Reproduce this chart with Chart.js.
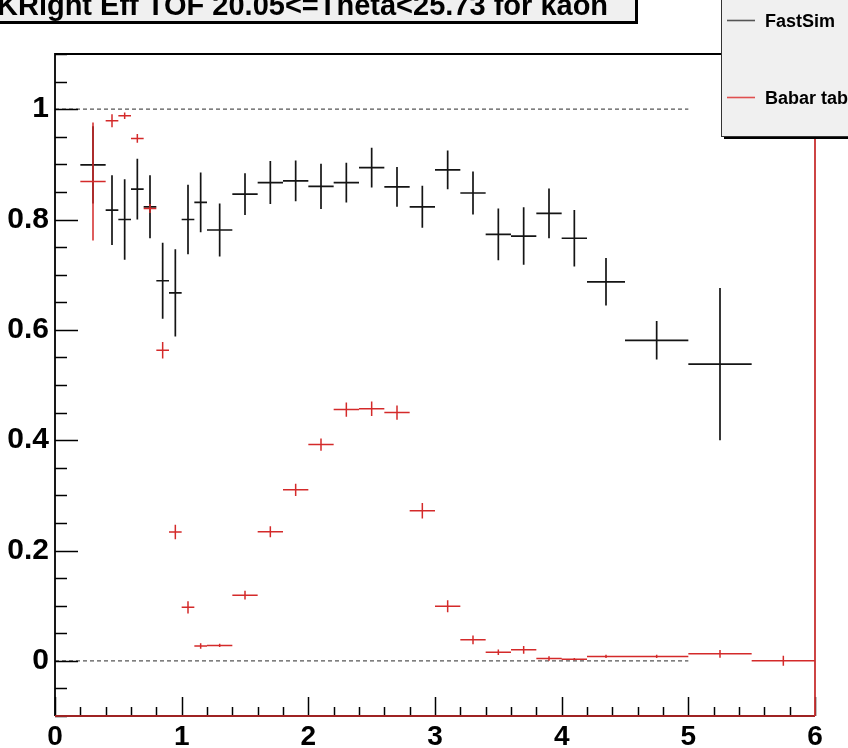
<!DOCTYPE html>
<html><head><meta charset="utf-8">
<script src="https://cdn.jsdelivr.net/npm/chart.js@4.4.1/dist/chart.umd.min.js"></script>
<style>html,body{margin:0;padding:0;background:#fff;overflow:hidden}canvas{display:block}</style>
</head><body>
<canvas id="c" width="848" height="748"></canvas>
<script>
// ---- data ----
const titleText = 'KRight Eff TOF 20.05<=Theta<25.73 for kaon';
const seriesNames = ['FastSim', 'Babar table'];

const binLow  = [0.2,0.4,0.5,0.6,0.7,0.8,0.9,1.0,1.1,1.2,1.4,1.6,1.8,2.0,2.2,2.4,2.6,2.8,3.0,3.2,3.4,3.6,3.8,4.0,4.2,4.5,5.0,5.5];
const binHigh = [0.4,0.5,0.6,0.7,0.8,0.9,1.0,1.1,1.2,1.4,1.6,1.8,2.0,2.2,2.4,2.6,2.8,3.0,3.2,3.4,3.6,3.8,4.0,4.2,4.5,5.0,5.5,6.0];

const fastSimValues = [0.899,0.817,0.800,0.855,0.823,0.689,0.667,0.800,0.831,0.781,0.846,0.867,0.870,0.860,0.867,0.894,0.859,0.823,0.890,0.848,0.773,0.770,0.811,0.766,0.687,0.581,0.538];
const fastSimErrors = [0.070,0.063,0.073,0.055,0.057,0.069,0.079,0.063,0.054,0.048,0.038,0.039,0.037,0.041,0.036,0.036,0.036,0.038,0.035,0.039,0.047,0.052,0.045,0.051,0.043,0.035,0.138];

const babarValues = [0.869,0.979,0.988,0.947,0.820,0.563,0.2335,0.097,0.027,0.028,0.119,0.234,0.310,0.392,0.4555,0.457,0.450,0.272,0.099,0.038,0.0157,0.020,0.0042,0.003,0.008,0.008,0.0127,0.0];
const babarErrors = [0.107,0.012,0.006,0.008,0.008,0.015,0.013,0.011,0.005,0.003,0.008,0.010,0.011,0.011,0.013,0.013,0.013,0.014,0.011,0.008,0.005,0.007,0.004,0.002,0.003,0.003,0.007,0.009];

const refLineX = [0, 5];
const refLineY = [0, 1];

const xTickValues = [0,1,2,3,4,5,6];
const xTickLabels = ['0','1','2','3','4','5','6'];
const yTickValues = [0,0.2,0.4,0.6,0.8,1];
const yTickLabels = ['0','0.2','0.4','0.6','0.8','1'];

// ---- build cross (error bar) polylines, broken by gaps ----
function crosses(values, errors) {
  const pts = [];
  values.forEach((v, i) => {
    const lo = binLow[i], hi = binHigh[i], c = (lo + hi) / 2, e = errors[i];
    pts.push({x: lo, y: v}, {x: hi, y: v}, {x: c, y: null});
    pts.push({x: c, y: v - e}, {x: c, y: v + e}, {x: c, y: null});
  });
  return pts;
}

const FONT = "'Liberation Sans', Arial, Helvetica, sans-serif";
const BLACK = '#141414';
const RED = '#d42a2a';

function labelFor(vals, labs, value) {
  for (let i = 0; i < vals.length; i++) if (Math.abs(vals[i] - value) < 1e-6) return labs[i];
  return '';
}
function isMajor(vals, value) { return labelFor(vals, vals.map(String), value) !== ''; }

const decorPlugin = {
  id: 'decor',
  afterDraw(chart) {
    const {ctx, chartArea: a, scales: {x, y}} = chart;
    ctx.save();
    // inward ticks
    ctx.strokeStyle = '#000';
    ctx.lineWidth = 1.5;
    y.ticks.forEach(t => {
      const py = Math.round(y.getPixelForValue(t.value)) + 0.5;
      const len = isMajor(yTickValues, t.value) ? 23 : 12;
      ctx.beginPath(); ctx.moveTo(a.left, py); ctx.lineTo(a.left + len, py); ctx.stroke();
    });
    x.ticks.forEach(t => {
      const px = Math.round(x.getPixelForValue(t.value)) + 0.5;
      const len = isMajor(xTickValues, t.value) ? 19 : 9;
      ctx.beginPath(); ctx.moveTo(px, a.bottom); ctx.lineTo(px, a.bottom - len); ctx.stroke();
    });
    // frame
    ctx.lineWidth = 1.8;
    ctx.strokeStyle = '#000';
    ctx.beginPath(); ctx.moveTo(a.left, a.bottom); ctx.lineTo(a.left, a.top); ctx.lineTo(a.right, a.top); ctx.stroke();
    ctx.strokeStyle = '#9e2323';
    ctx.beginPath(); ctx.moveTo(a.left, a.bottom); ctx.lineTo(a.right, a.bottom); ctx.stroke();
    ctx.strokeStyle = '#c83030';
    ctx.beginPath(); ctx.moveTo(a.right, a.bottom); ctx.lineTo(a.right, a.top); ctx.stroke();

    // title box
    const tb = {x0: -10, y0: -40, x1: 635, y1: 21};
    ctx.fillStyle = '#000';
    ctx.fillRect(tb.x0 + 3, tb.y0 + 3, tb.x1 - tb.x0, tb.y1 - tb.y0);
    ctx.fillStyle = '#f0f0f0';
    ctx.fillRect(tb.x0, tb.y0, tb.x1 - tb.x0, tb.y1 - tb.y0);
    ctx.lineWidth = 1; ctx.strokeStyle = '#000';
    ctx.strokeRect(tb.x0 + 0.5, tb.y0 + 0.5, tb.x1 - tb.x0, tb.y1 - tb.y0);
    ctx.fillStyle = '#000';
    ctx.font = 'bold 29px ' + FONT;
    ctx.textBaseline = 'alphabetic'; ctx.textAlign = 'left';
    ctx.fillText(titleText, -3, 15);

    // legend box
    const lb = {x0: 721, y0: -40, x1: 880, y1: 136};
    ctx.fillStyle = '#000';
    ctx.fillRect(lb.x0 + 3, lb.y0 + 3, lb.x1 - lb.x0, lb.y1 - lb.y0);
    ctx.fillStyle = '#f0f0f0';
    ctx.fillRect(lb.x0, lb.y0, lb.x1 - lb.x0, lb.y1 - lb.y0);
    ctx.lineWidth = 1; ctx.strokeStyle = '#333';
    ctx.strokeRect(lb.x0 + 0.5, lb.y0 + 0.5, lb.x1 - lb.x0, lb.y1 - lb.y0);
    const entries = [{name: seriesNames[0], color: '#555', y: 20}, {name: seriesNames[1], color: '#e05050', y: 97}];
    ctx.font = 'bold 18px ' + FONT;
    entries.forEach(en => {
      ctx.strokeStyle = en.color; ctx.lineWidth = 1.6;
      ctx.beginPath(); ctx.moveTo(727, en.y + 0.5); ctx.lineTo(755, en.y + 0.5); ctx.stroke();
      ctx.fillStyle = '#000';
      ctx.fillText(en.name, 765, en.y + 7);
    });
    ctx.restore();
  }
};

const ctx = document.getElementById('c').getContext('2d');
new Chart(ctx, {
  type: 'scatter',
  data: {
    datasets: [
      {label: 'ref0', data: refLineX.map(v => ({x: v, y: refLineY[0]})), showLine: true, borderColor: '#555', borderWidth: 1.4, borderDash: [4, 3], pointRadius: 0, order: 3},
      {label: 'ref1', data: refLineX.map(v => ({x: v, y: refLineY[1]})), showLine: true, borderColor: '#555', borderWidth: 1.4, borderDash: [4, 3], pointRadius: 0, order: 3},
      {label: seriesNames[0], data: crosses(fastSimValues, fastSimErrors), showLine: true, spanGaps: false, borderColor: BLACK, borderWidth: 1.7, pointRadius: 0, order: 2},
      {label: seriesNames[1], data: crosses(babarValues, babarErrors), showLine: true, spanGaps: false, borderColor: RED, borderWidth: 1.5, pointRadius: 0, order: 1}
    ]
  },
  options: {
    responsive: false,
    animation: false,
    devicePixelRatio: 1,
    layout: {padding: {top: 54, right: 33, left: 0, bottom: 0}},
    plugins: {legend: {display: false}, tooltip: {enabled: false}, title: {display: false}},
    scales: {
      x: {
        type: 'linear', min: 0, max: 6,
        grid: {display: false, drawTicks: false},
        border: {display: false},
        ticks: {stepSize: 0.2, autoSkip: false, maxRotation: 0, padding: 4, color: '#000',
          font: {family: FONT, size: 28, weight: 'bold'},
          callback: v => labelFor(xTickValues, xTickLabels, v)},
        afterFit: s => { s.height = 32; }
      },
      y: {
        type: 'linear', min: -0.1, max: 1.1,
        grid: {display: false, drawTicks: false},
        border: {display: false},
        ticks: {stepSize: 0.05, autoSkip: false, padding: 6, color: '#000',
          font: {family: FONT, size: 30, weight: 'bold'},
          callback: v => labelFor(yTickValues, yTickLabels, v)},
        afterFit: s => { s.width = 55; }
      }
    }
  },
  plugins: [decorPlugin]
});
</script>
</body></html>
